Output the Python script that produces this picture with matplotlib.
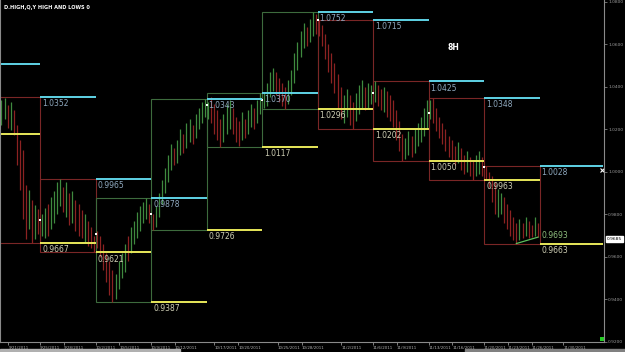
import numpy as np
import pandas as pd
import matplotlib
matplotlib.use('Agg')
import matplotlib.pyplot as plt
from matplotlib.patches import Rectangle

# weekly high / low (first entry is the week before the first box)
prev_high = 1.0508
prev_low = 1.0180
week_high = [1.0352, 0.9965, 0.9878, 1.0343, 1.0370, 1.0752, 1.0715, 1.0425, 1.0348, 1.0028]
week_low = [0.9667, 0.9621, 0.9387, 0.9726, 1.0117, 1.0296, 1.0202, 1.0050, 0.9963, 0.9663]
week_open = [1.0300, 0.9772, 0.9710, 0.9800, 1.0316, 1.0339, 1.0714, 1.0372, 1.0278, 1.0025]
last_price = 0.9685

# 4h bars, one row per week
bar_high = [
    [1.0300, 1.0330, 1.0352, 1.0320, 1.0310, 1.0339, 1.0345, 1.0316, 1.0330, 1.0292, 1.0222, 1.0152, 1.0105, 0.9940, 0.9917, 0.9870, 0.9846, 0.9823],
    [0.9800, 0.9830, 0.9850, 0.9880, 0.9910, 0.9950, 0.9965, 0.9930, 0.9950, 0.9900, 0.9910, 0.9870, 0.9850, 0.9820, 0.9800, 0.9770, 0.9740, 0.9700],
    [0.9720, 0.9700, 0.9660, 0.9620, 0.9580, 0.9540, 0.9520, 0.9580, 0.9620, 0.9660, 0.9700, 0.9740, 0.9770, 0.9810, 0.9840, 0.9860, 0.9878, 0.9850],
    [0.9800, 0.9840, 0.9900, 0.9960, 1.0020, 1.0080, 1.0130, 1.0110, 1.0150, 1.0200, 1.0180, 1.0230, 1.0250, 1.0220, 1.0270, 1.0300, 1.0330, 1.0343],
    [1.0330, 1.0350, 1.0320, 1.0290, 1.0250, 1.0270, 1.0320, 1.0340, 1.0300, 1.0260, 1.0240, 1.0280, 1.0250, 1.0290, 1.0320, 1.0300, 1.0340, 1.0370],
    [1.0370, 1.0420, 1.0470, 1.0490, 1.0470, 1.0440, 1.0420, 1.0400, 1.0430, 1.0480, 1.0560, 1.0610, 1.0660, 1.0700, 1.0680, 1.0720, 1.0752, 1.0740],
    [1.0715, 1.0690, 1.0650, 1.0600, 1.0560, 1.0510, 1.0460, 1.0400, 1.0360, 1.0390, 1.0360, 1.0330, 1.0370, 1.0410, 1.0430, 1.0400, 1.0420, 1.0410],
    [1.0425, 1.0410, 1.0390, 1.0400, 1.0380, 1.0360, 1.0340, 1.0290, 1.0240, 1.0180, 1.0160, 1.0190, 1.0170, 1.0200, 1.0230, 1.0260, 1.0300, 1.0340],
    [1.0340, 1.0348, 1.0300, 1.0260, 1.0230, 1.0200, 1.0170, 1.0150, 1.0120, 1.0140, 1.0110, 1.0080, 1.0100, 1.0070, 1.0050, 1.0080, 1.0100, 1.0070],
    [1.0028, 1.0000, 0.9980, 0.9950, 0.9920, 0.9900, 0.9880, 0.9850, 0.9820, 0.9790, 0.9760, 0.9780, 0.9760, 0.9790, 0.9770, 0.9750, 0.9790, 0.9760],
]
bar_low = [
    [1.0250, 1.0270, 1.0290, 1.0260, 1.0240, 1.0222, 1.0250, 1.0208, 1.0199, 1.0175, 1.0034, 0.9917, 0.9776, 0.9683, 0.9729, 0.9667, 0.9683, 0.9706],
    [0.9700, 0.9690, 0.9700, 0.9730, 0.9760, 0.9800, 0.9840, 0.9810, 0.9790, 0.9750, 0.9760, 0.9720, 0.9700, 0.9690, 0.9670, 0.9650, 0.9640, 0.9621],
    [0.9640, 0.9600, 0.9540, 0.9480, 0.9420, 0.9387, 0.9400, 0.9450, 0.9500, 0.9530, 0.9580, 0.9620, 0.9660, 0.9690, 0.9720, 0.9760, 0.9780, 0.9760],
    [0.9726, 0.9740, 0.9790, 0.9850, 0.9900, 0.9950, 1.0010, 1.0030, 1.0040, 1.0080, 1.0090, 1.0110, 1.0140, 1.0130, 1.0160, 1.0200, 1.0230, 1.0260],
    [1.0250, 1.0230, 1.0180, 1.0150, 1.0117, 1.0140, 1.0180, 1.0200, 1.0180, 1.0140, 1.0120, 1.0150, 1.0160, 1.0180, 1.0210, 1.0200, 1.0230, 1.0270],
    [1.0300, 1.0310, 1.0350, 1.0380, 1.0360, 1.0330, 1.0310, 1.0296, 1.0320, 1.0360, 1.0420, 1.0480, 1.0540, 1.0580, 1.0590, 1.0610, 1.0640, 1.0650],
    [1.0640, 1.0590, 1.0530, 1.0470, 1.0420, 1.0370, 1.0300, 1.0250, 1.0230, 1.0260, 1.0220, 1.0202, 1.0240, 1.0270, 1.0300, 1.0290, 1.0300, 1.0320],
    [1.0330, 1.0310, 1.0290, 1.0280, 1.0260, 1.0240, 1.0210, 1.0150, 1.0100, 1.0050, 1.0060, 1.0080, 1.0070, 1.0090, 1.0120, 1.0140, 1.0170, 1.0200],
    [1.0250, 1.0230, 1.0190, 1.0160, 1.0130, 1.0100, 1.0070, 1.0050, 1.0030, 1.0040, 1.0010, 0.9990, 1.0000, 0.9980, 0.9963, 0.9980, 0.9990, 0.9980],
    [0.9960, 0.9930, 0.9860, 0.9800, 0.9790, 0.9800, 0.9760, 0.9730, 0.9700, 0.9680, 0.9663, 0.9680, 0.9690, 0.9700, 0.9690, 0.9693, 0.9700, 0.9693],
]
bar_dir = [
    "ggrgrggrgrrrrrgrgr",
    "ggrggggrgrgrrrgrrr",
    "rrrrrrggggrggggggr",
    "rggggggrggrggrgggg",
    "grrrrgggrrrgrggrgg",
    "ggggrrrrggggggrggr",
    "rrrrrrrrggrrgggrgg",
    "grrgrrrrrrggrggggg",
    "grrrrrrrrgrrgrrggr",
    "rrrrggrrrrrgrgrrgr",
]

# trend line inside the last week (bar index, price)
trend_bars = [10, 17]
trend_prices = [0.9663, 0.9693]

date_labels = ['9/21/2011', '9/25/2011', '9/28/2011', '10/2/2011', '10/5/2011', '10/9/2011',
               '10/12/2011', '10/17/2011', '10/20/2011', '10/25/2011', '10/28/2011', '11/2/2011',
               '11/6/2011', '11/9/2011', '11/13/2011', '11/16/2011', '11/20/2011', '11/23/2011',
               '11/26/2011', '11/30/2011']
first_sunday = '2011-09-18'

# colours
BAR_UP = '#3f8a3f'
BAR_DN = '#8c2222'
BOX_UP = '#3d6b3d'
BOX_DN = '#7a2626'
HI_LINE = '#5fd3e6'
LO_LINE = '#e8e85a'
HI_TXT = '#8fa9bf'
LO_TXT = '#cfcfb5'

n_per_week = len(bar_high[0])
x_left = 15.5 / 55.5
x_right = x_left + 604 / 55.5

fig = plt.figure(figsize=(6.25, 3.52), dpi=100, facecolor='black')
ax = fig.add_axes([0, 10 / 352, 604 / 625, 342 / 352], facecolor='black')

# bars
for k in range(len(bar_high)):
    xs = k + (np.arange(n_per_week) + 0.5) / n_per_week
    cols = [BAR_UP if c == 'g' else BAR_DN for c in bar_dir[k]]
    ax.vlines(xs, bar_low[k], bar_high[k], colors=cols, lw=0.9)

# weekly boxes and open dots
for k in range(len(week_high)):
    nxt = week_open[k + 1] if k + 1 < len(week_open) else last_price
    col = BOX_UP if nxt > week_open[k] else BOX_DN
    ax.add_patch(Rectangle((k, week_low[k]), 1, week_high[k] - week_low[k],
                           fill=False, edgecolor=col, lw=0.8))
    ax.plot(k, week_open[k], 's', color='white', ms=1.6, mew=0)

# previous-week high/low lines
highs = [prev_high] + week_high
lows = [prev_low] + week_low
for k in range(len(highs)):
    x0 = k
    x1 = k + 1 if k < len(highs) - 1 else x_right - 0.02
    ax.hlines(highs[k], x0, x1, color=HI_LINE, lw=1.4)
    ax.hlines(lows[k], x0, x1, color=LO_LINE, lw=1.4)
    ax.annotate(f'{highs[k]:.4f}', (x0, highs[k]), xytext=(1.5, -1.5), textcoords='offset points',
                ha='left', va='top', fontsize=5.5, color=HI_TXT)
    ax.annotate(f'{lows[k]:.4f}', (x0, lows[k]), xytext=(1.5, -1.5), textcoords='offset points',
                ha='left', va='top', fontsize=5.5, color=LO_TXT)

# trend line in last week
tx = [9 + (b + 0.5) / n_per_week for b in trend_bars]
ax.plot(tx, trend_prices, color='#5cc05c', lw=0.9)
ax.annotate(f'{trend_prices[1]:.4f}', (10, trend_prices[1]), xytext=(1.5, 1), textcoords='offset points',
            ha='left', va='center', fontsize=5.5, color='#8fbf7f')

# marker at end of current high line
ax.plot(x_right - 0.03, highs[-1] - 0.0018, marker='x', color='white', ms=3, mew=0.8)
ax.plot(x_right - 0.03, 0.9212, marker='s', color='#22cc22', ms=3.5, mew=0)

ax.text(453 / 55.5 + x_left, 0.9208 + (342 - 48) / 2132, '8H', color='white', fontsize=5.5,
        ha='center', va='center', fontweight='bold')
fig.text(0.006, 0.985, 'D.HIGH,Q,Y HIGH AND LOWS 0', color='white', fontsize=3.6,
         ha='left', va='top', fontweight='bold')

ax.set_xlim(x_left, x_right)
ax.set_ylim(0.9205, 1.0808)

# right price axis
ax.yaxis.tick_right()
ax.set_yticks(np.arange(0.92, 1.0801, 0.02))
ax.set_yticklabels([f'{v:.4f}' for v in np.arange(0.92, 1.0801, 0.02)])
ax.tick_params(axis='y', colors='#9a9a9a', labelsize=3.2, length=2, width=0.5, pad=1)

# date axis
dpos = (pd.to_datetime(date_labels, format='%m/%d/%Y') - pd.Timestamp(first_sunday)).days / 7
ax.set_xticks(dpos)
ax.set_xticklabels(date_labels)
ax.tick_params(axis='x', colors='#b0b0b0', labelsize=2.9, length=2, width=0.5, pad=1.2)
for lab in ax.get_xticklabels():
    lab.set_horizontalalignment('left')

for s in ['left', 'right', 'bottom']:
    ax.spines[s].set_color('#8a8a8a')
    ax.spines[s].set_linewidth(0.8)
ax.spines['top'].set_visible(False)

# current price tag
ax.annotate(f'{last_price:.4f}', (1.0, last_price), xycoords=('axes fraction', 'data'),
            xytext=(2, 0), textcoords='offset points', ha='left', va='center', fontsize=3.2,
            color='black', bbox=dict(boxstyle='square,pad=0.25', fc='white', ec='white'),
            annotation_clip=False)

# scroll bar strip at bottom
fig.patches.append(Rectangle((0, 0), 180 / 625, 3 / 352, transform=fig.transFigure,
                             color='#b0b0b0', zorder=5))
fig.patches.append(Rectangle((465 / 625, 0), 160 / 625, 3 / 352, transform=fig.transFigure,
                             color='#808080', zorder=5))

fig.savefig('out.png', dpi=100, facecolor='black')
